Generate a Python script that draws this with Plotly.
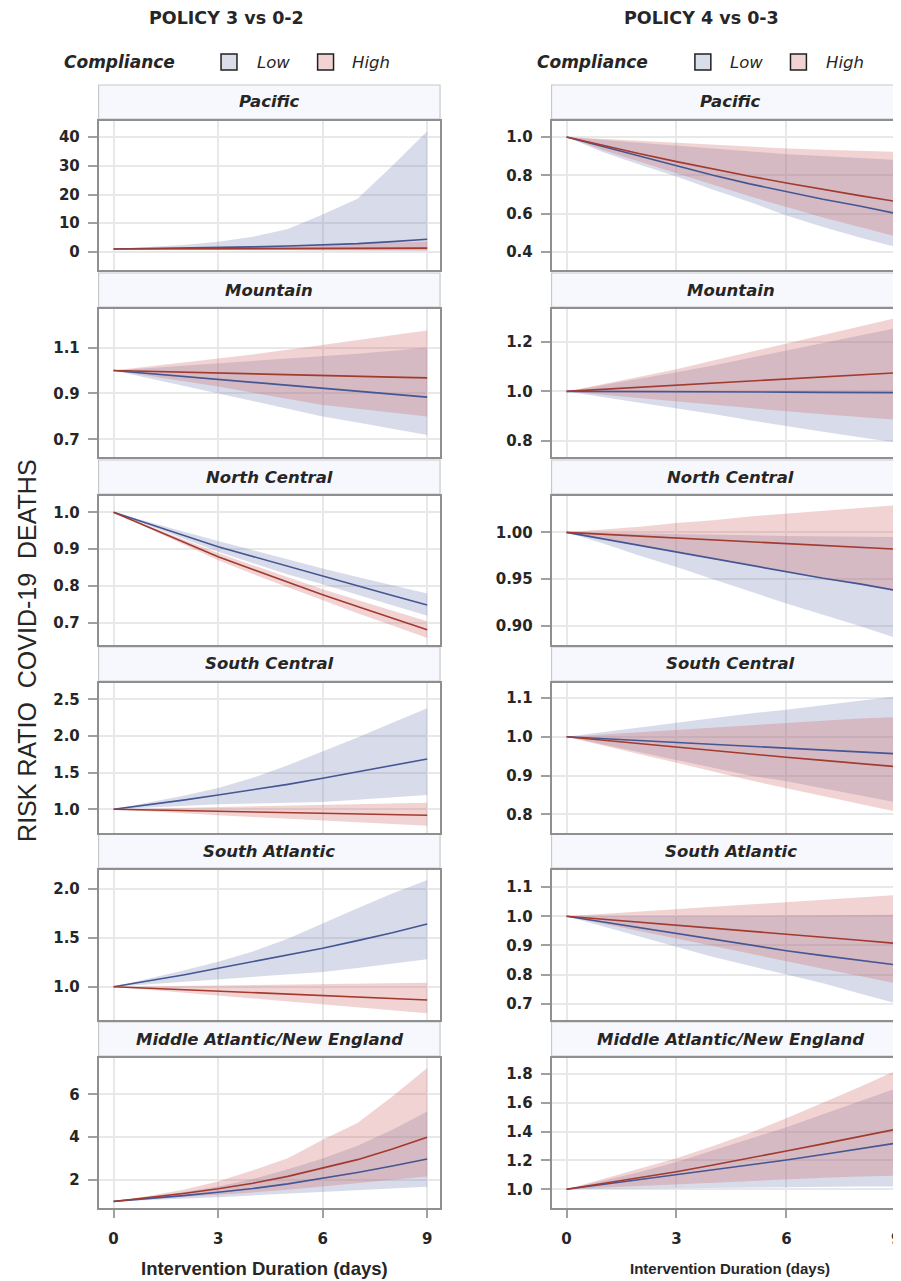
import plotly.graph_objects as go

# The page body has an 8px margin, so the figure is sized to the visible area.
PAGE_OFF = 8
W, H = 901 - PAGE_OFF, 1281 - PAGE_OFF

# ---------------- data ----------------
DAYS = [0, 1, 2, 3, 4, 5, 6, 7, 8, 9]
X_TICKS = [0, 3, 6, 9]
REGIONS = ["Pacific", "Mountain", "North Central", "South Central",
           "South Atlantic", "Middle Atlantic/New England"]
POLICY_TITLES = ["POLICY 3 vs 0-2", "POLICY 4 vs 0-3"]
GROUPS = ["Low", "High"]

# POLICY 3 vs 0-2 : Pacific
p3_pac_low_mid = [1.0, 1.15, 1.3, 1.5, 1.75, 2.05, 2.4, 2.9, 3.6, 4.4]
p3_pac_low_up = [1.0, 1.6, 2.4, 3.5, 5.3, 8.0, 13.0, 18.5, 30.0, 42.0]
p3_pac_low_lo = [1.0, 0.85, 0.75, 0.68, 0.62, 0.56, 0.5, 0.46, 0.43, 0.40]
p3_pac_high_mid = [1.0, 1.03, 1.06, 1.09, 1.12, 1.16, 1.2, 1.24, 1.28, 1.33]
p3_pac_high_up = [1.0, 1.2, 1.4, 1.6, 1.8, 2.1, 2.4, 2.8, 3.2, 3.6]
p3_pac_high_lo = [1.0, 0.9, 0.8, 0.75, 0.7, 0.65, 0.6, 0.56, 0.53, 0.5]
# POLICY 3 : Mountain
p3_mtn_low_mid = [1.0, 0.987, 0.974, 0.961, 0.948, 0.935, 0.922, 0.909, 0.896, 0.884]
p3_mtn_low_up = [1.0, 1.01, 1.02, 1.03, 1.04, 1.05, 1.06, 1.073, 1.086, 1.1]
p3_mtn_low_lo = [1.0, 0.967, 0.934, 0.9, 0.867, 0.834, 0.80, 0.773, 0.746, 0.719]
p3_mtn_high_mid = [1.0, 0.996, 0.992, 0.988, 0.984, 0.98, 0.977, 0.974, 0.971, 0.968]
p3_mtn_high_up = [1.0, 1.017, 1.034, 1.05, 1.07, 1.09, 1.112, 1.133, 1.154, 1.174]
p3_mtn_high_lo = [1.0, 0.977, 0.954, 0.93, 0.903, 0.877, 0.85, 0.833, 0.816, 0.8]
# POLICY 3 : North Central
p3_nc_low_mid = [1.0, 0.97, 0.938, 0.907, 0.88, 0.854, 0.828, 0.801, 0.775, 0.749]
p3_nc_low_up = [1.0, 0.975, 0.948, 0.922, 0.897, 0.872, 0.848, 0.825, 0.802, 0.78]
p3_nc_low_lo = [1.0, 0.965, 0.929, 0.893, 0.862, 0.832, 0.805, 0.777, 0.749, 0.72]
p3_nc_high_mid = [1.0, 0.96, 0.92, 0.88, 0.845, 0.81, 0.777, 0.745, 0.713, 0.682]
p3_nc_high_up = [1.0, 0.964, 0.927, 0.89, 0.857, 0.824, 0.792, 0.763, 0.734, 0.705]
p3_nc_high_lo = [1.0, 0.956, 0.912, 0.87, 0.833, 0.797, 0.762, 0.727, 0.694, 0.66]
# POLICY 3 : South Central
p3_sc_low_mid = [1.0, 1.06, 1.125, 1.195, 1.265, 1.34, 1.423, 1.51, 1.595, 1.686]
p3_sc_low_up = [1.0, 1.09, 1.185, 1.29, 1.43, 1.6, 1.786, 1.98, 2.18, 2.378]
p3_sc_low_lo = [1.0, 1.025, 1.05, 1.07, 1.08, 1.09, 1.10, 1.13, 1.16, 1.195]
p3_sc_high_mid = [1.0, 0.99, 0.98, 0.97, 0.962, 0.953, 0.944, 0.935, 0.927, 0.918]
p3_sc_high_up = [1.0, 1.01, 1.02, 1.03, 1.04, 1.05, 1.06, 1.07, 1.08, 1.09]
p3_sc_high_lo = [1.0, 0.97, 0.945, 0.92, 0.895, 0.87, 0.845, 0.82, 0.798, 0.776]
# POLICY 3 : South Atlantic
p3_sa_low_mid = [1.0, 1.06, 1.12, 1.188, 1.255, 1.32, 1.392, 1.47, 1.55, 1.64]
p3_sa_low_up = [1.0, 1.08, 1.165, 1.255, 1.36, 1.49, 1.647, 1.8, 1.95, 2.09]
p3_sa_low_lo = [1.0, 1.025, 1.05, 1.07, 1.095, 1.12, 1.15, 1.19, 1.235, 1.28]
p3_sa_high_mid = [1.0, 0.985, 0.97, 0.955, 0.94, 0.925, 0.91, 0.895, 0.88, 0.864]
p3_sa_high_up = [1.0, 1.005, 1.01, 1.015, 1.02, 1.025, 1.03, 1.033, 1.036, 1.04]
p3_sa_high_lo = [1.0, 0.97, 0.94, 0.91, 0.88, 0.85, 0.82, 0.79, 0.76, 0.728]
# POLICY 3 : Middle Atlantic/New England
p3_ma_low_mid = [1.0, 1.12, 1.27, 1.43, 1.6, 1.82, 2.08, 2.35, 2.65, 2.98]
p3_ma_low_up = [1.0, 1.2, 1.43, 1.7, 2.05, 2.5, 3.0, 3.6, 4.35, 5.2]
p3_ma_low_lo = [1.0, 1.06, 1.13, 1.2, 1.28, 1.36, 1.44, 1.52, 1.6, 1.69]
p3_ma_high_mid = [1.0, 1.17, 1.37, 1.59, 1.85, 2.17, 2.55, 2.95, 3.45, 4.0]
p3_ma_high_up = [1.0, 1.25, 1.55, 1.93, 2.45, 3.02, 3.88, 4.66, 5.9, 7.23]
p3_ma_high_lo = [1.0, 1.1, 1.2, 1.3, 1.42, 1.55, 1.7, 1.85, 2.0, 2.16]

# POLICY 4 vs 0-3 : Pacific
p4_pac_low_mid = [1.0, 0.95, 0.9, 0.85, 0.80, 0.755, 0.715, 0.675, 0.64, 0.60]
p4_pac_low_up = [1.0, 0.985, 0.97, 0.955, 0.94, 0.925, 0.91, 0.9, 0.89, 0.88]
p4_pac_low_lo = [1.0, 0.92, 0.855, 0.793, 0.725, 0.66, 0.59, 0.53, 0.475, 0.425]
p4_pac_high_mid = [1.0, 0.955, 0.912, 0.871, 0.832, 0.795, 0.76, 0.726, 0.694, 0.663]
p4_pac_high_up = [1.0, 0.99, 0.978, 0.967, 0.958, 0.949, 0.94, 0.933, 0.927, 0.922]
p4_pac_high_lo = [1.0, 0.93, 0.87, 0.81, 0.75, 0.69, 0.635, 0.58, 0.53, 0.48]
# POLICY 4 : Mountain
p4_mtn_low_mid = [1.0, 1.0, 0.999, 0.999, 0.998, 0.998, 0.997, 0.996, 0.996, 0.995]
p4_mtn_low_up = [1.0, 1.025, 1.05, 1.078, 1.105, 1.135, 1.165, 1.195, 1.226, 1.257]
p4_mtn_low_lo = [1.0, 0.977, 0.955, 0.933, 0.908, 0.883, 0.858, 0.836, 0.814, 0.793]
p4_mtn_high_mid = [1.0, 1.008, 1.016, 1.024, 1.032, 1.04, 1.049, 1.058, 1.066, 1.075]
p4_mtn_high_up = [1.0, 1.03, 1.06, 1.09, 1.125, 1.16, 1.196, 1.23, 1.265, 1.298]
p4_mtn_high_lo = [1.0, 0.986, 0.972, 0.959, 0.945, 0.932, 0.919, 0.907, 0.896, 0.885]
# POLICY 4 : North Central
p4_nc_low_mid = [1.0, 0.993, 0.986, 0.979, 0.972, 0.965, 0.958, 0.951, 0.945, 0.938]
p4_nc_low_up = [1.0, 0.9995, 0.999, 0.9985, 0.998, 0.997, 0.996, 0.9955, 0.995, 0.995]
p4_nc_low_lo = [1.0, 0.988, 0.975, 0.963, 0.95, 0.937, 0.924, 0.912, 0.9, 0.887]
p4_nc_high_mid = [1.0, 0.998, 0.996, 0.994, 0.992, 0.99, 0.988, 0.986, 0.984, 0.982]
p4_nc_high_up = [1.0, 1.003, 1.006, 1.01, 1.013, 1.017, 1.02, 1.023, 1.026, 1.029]
p4_nc_high_lo = [1.0, 0.993, 0.986, 0.979, 0.972, 0.965, 0.958, 0.951, 0.944, 0.937]
# POLICY 4 : South Central
p4_sc_low_mid = [1.0, 0.995, 0.99, 0.985, 0.98, 0.975, 0.97, 0.965, 0.96, 0.956]
p4_sc_low_up = [1.0, 1.012, 1.024, 1.036, 1.048, 1.06, 1.07, 1.082, 1.093, 1.104]
p4_sc_low_lo = [1.0, 0.98, 0.96, 0.94, 0.92, 0.9, 0.885, 0.867, 0.849, 0.831]
p4_sc_high_mid = [1.0, 0.991, 0.982, 0.973, 0.964, 0.956, 0.947, 0.939, 0.931, 0.923]
p4_sc_high_up = [1.0, 1.006, 1.012, 1.018, 1.024, 1.03, 1.036, 1.042, 1.047, 1.051]
p4_sc_high_lo = [1.0, 0.977, 0.955, 0.933, 0.91, 0.888, 0.867, 0.847, 0.827, 0.807]
# POLICY 4 : South Atlantic
p4_sa_low_mid = [1.0, 0.98, 0.96, 0.94, 0.92, 0.9, 0.882, 0.865, 0.849, 0.833]
p4_sa_low_up = [1.0, 1.0, 1.0, 1.0, 1.0, 1.002, 1.003, 1.004, 1.005, 1.005]
p4_sa_low_lo = [1.0, 0.965, 0.93, 0.895, 0.86, 0.83, 0.8, 0.77, 0.735, 0.701]
p4_sa_high_mid = [1.0, 0.99, 0.98, 0.97, 0.96, 0.95, 0.94, 0.93, 0.918, 0.907]
p4_sa_high_up = [1.0, 1.008, 1.016, 1.024, 1.032, 1.04, 1.048, 1.056, 1.064, 1.073]
p4_sa_high_lo = [1.0, 0.975, 0.95, 0.925, 0.898, 0.872, 0.845, 0.82, 0.795, 0.77]
# POLICY 4 : Middle Atlantic/New England
p4_ma_low_mid = [1.0, 1.033, 1.066, 1.1, 1.133, 1.167, 1.203, 1.241, 1.28, 1.32]
p4_ma_low_up = [1.0, 1.06, 1.12, 1.19, 1.27, 1.35, 1.43, 1.52, 1.61, 1.70]
p4_ma_low_lo = [1.0, 1.003, 1.006, 1.009, 1.011, 1.013, 1.015, 1.017, 1.019, 1.02]
p4_ma_high_mid = [1.0, 1.04, 1.08, 1.122, 1.168, 1.215, 1.266, 1.315, 1.365, 1.417]
p4_ma_high_up = [1.0, 1.07, 1.14, 1.215, 1.3, 1.39, 1.493, 1.6, 1.71, 1.824]
p4_ma_high_lo = [1.0, 1.012, 1.024, 1.036, 1.048, 1.06, 1.07, 1.08, 1.088, 1.095]

# y-axis ticks per panel (policy 3 column, then policy 4 column)
p3_yticks = [[0, 10, 20, 30, 40], [0.7, 0.9, 1.1], [0.7, 0.8, 0.9, 1.0],
             [1.0, 1.5, 2.0, 2.5], [1.0, 1.5, 2.0], [2, 4, 6]]
p3_yticklabels = [["0", "10", "20", "30", "40"], ["0.7", "0.9", "1.1"],
                  ["0.7", "0.8", "0.9", "1.0"], ["1.0", "1.5", "2.0", "2.5"],
                  ["1.0", "1.5", "2.0"], ["2", "4", "6"]]
p4_yticks = [[0.4, 0.6, 0.8, 1.0], [0.8, 1.0, 1.2], [0.90, 0.95, 1.00],
             [0.8, 0.9, 1.0, 1.1], [0.7, 0.8, 0.9, 1.0, 1.1],
             [1.0, 1.2, 1.4, 1.6, 1.8]]
p4_yticklabels = [["0.4", "0.6", "0.8", "1.0"], ["0.8", "1.0", "1.2"],
                  ["0.90", "0.95", "1.00"], ["0.8", "0.9", "1.0", "1.1"],
                  ["0.7", "0.8", "0.9", "1.0", "1.1"],
                  ["1.0", "1.2", "1.4", "1.6", "1.8"]]

# ---------------- styling / layout ----------------
p3_yranges = [[-6.3, 45.6], [0.623, 1.268], [0.641, 1.044],
              [0.677, 2.722], [0.66, 2.191], [0.693, 7.694]]
p4_yranges = [[0.306, 1.083], [0.734, 1.334], [0.8797, 1.0388],
              [0.7518, 1.1387], [0.644, 1.159], [0.870, 1.911]]

# positions in page pixels
PLOT_TOPS = [121, 309, 496, 683, 870, 1058]
PLOT_BOTS = [270, 457, 645, 833, 1020, 1208]
COL_X = [(99, 442), (554, 901)]
COL_XRANGE = [[-0.43, 9.37], [-0.41, 9.02]]

LOW_LINE = "#445694"
HIGH_LINE = "#A23A2E"
LOW_FILL = "rgba(111,126,179,0.27)"
HIGH_FILL = "rgba(208,91,91,0.27)"
FRAME = "#8F8F8F"
GRID = "#E8E8E8"
TXT = "#262626"
FONT = "DejaVu Sans"
AFONT = "Liberation Sans"

panels = [
    [
        (p3_pac_low_lo, p3_pac_low_mid, p3_pac_low_up, p3_pac_high_lo, p3_pac_high_mid, p3_pac_high_up),
        (p3_mtn_low_lo, p3_mtn_low_mid, p3_mtn_low_up, p3_mtn_high_lo, p3_mtn_high_mid, p3_mtn_high_up),
        (p3_nc_low_lo, p3_nc_low_mid, p3_nc_low_up, p3_nc_high_lo, p3_nc_high_mid, p3_nc_high_up),
        (p3_sc_low_lo, p3_sc_low_mid, p3_sc_low_up, p3_sc_high_lo, p3_sc_high_mid, p3_sc_high_up),
        (p3_sa_low_lo, p3_sa_low_mid, p3_sa_low_up, p3_sa_high_lo, p3_sa_high_mid, p3_sa_high_up),
        (p3_ma_low_lo, p3_ma_low_mid, p3_ma_low_up, p3_ma_high_lo, p3_ma_high_mid, p3_ma_high_up),
    ],
    [
        (p4_pac_low_lo, p4_pac_low_mid, p4_pac_low_up, p4_pac_high_lo, p4_pac_high_mid, p4_pac_high_up),
        (p4_mtn_low_lo, p4_mtn_low_mid, p4_mtn_low_up, p4_mtn_high_lo, p4_mtn_high_mid, p4_mtn_high_up),
        (p4_nc_low_lo, p4_nc_low_mid, p4_nc_low_up, p4_nc_high_lo, p4_nc_high_mid, p4_nc_high_up),
        (p4_sc_low_lo, p4_sc_low_mid, p4_sc_low_up, p4_sc_high_lo, p4_sc_high_mid, p4_sc_high_up),
        (p4_sa_low_lo, p4_sa_low_mid, p4_sa_low_up, p4_sa_high_lo, p4_sa_high_mid, p4_sa_high_up),
        (p4_ma_low_lo, p4_ma_low_mid, p4_ma_low_up, p4_ma_high_lo, p4_ma_high_mid, p4_ma_high_up),
    ],
]
yticks = [p3_yticks, p4_yticks]
yticklabels = [p3_yticklabels, p4_yticklabels]
yranges = [p3_yranges, p4_yranges]


def px(x):
    return (x - PAGE_OFF) / W


def py(y):
    return 1 - (y - PAGE_OFF) / H


fig = go.Figure()
layout = {}
shapes = []
annotations = []

for col in range(2):
    for i in range(6):
        k = i * 2 + col + 1
        xa = "x" if k == 1 else f"x{k}"
        ya = "y" if k == 1 else f"y{k}"
        low_lo, low_mid, low_up, high_lo, high_mid, high_up = panels[col][i]
        common = dict(xaxis=xa, yaxis=ya, mode="lines", showlegend=False,
                      hoverinfo="skip")
        fig.add_trace(go.Scatter(x=DAYS, y=low_lo, line=dict(width=0), **common))
        fig.add_trace(go.Scatter(x=DAYS, y=low_up, line=dict(width=0),
                                 fill="tonexty", fillcolor=LOW_FILL, **common))
        fig.add_trace(go.Scatter(x=DAYS, y=high_lo, line=dict(width=0), **common))
        fig.add_trace(go.Scatter(x=DAYS, y=high_up, line=dict(width=0),
                                 fill="tonexty", fillcolor=HIGH_FILL, **common))
        fig.add_trace(go.Scatter(x=DAYS, y=low_mid,
                                 line=dict(width=1.6, color=LOW_LINE), **common))
        fig.add_trace(go.Scatter(x=DAYS, y=high_mid,
                                 line=dict(width=1.6, color=HIGH_LINE), **common))

        x0, x1 = COL_X[col]
        top, bot = PLOT_TOPS[i], PLOT_BOTS[i]
        bottom = (i == 5)
        layout["xaxis" if k == 1 else f"xaxis{k}"] = dict(
            domain=[px(x0), min(1.0, px(x1))], anchor=ya, range=COL_XRANGE[col],
            tickvals=X_TICKS, ticktext=[str(v) for v in X_TICKS],
            showticklabels=bottom, ticks="outside" if bottom else "",
            ticklen=8, tickwidth=1.5, tickcolor="#A0A0A0", ticklabelstandoff=8,
            ticklabeloverflow="allow",
            tickfont=dict(family=FONT, size=15, color=TXT, weight="bold"),
            showline=True, mirror=True, linecolor=FRAME, linewidth=1.6,
            showgrid=True, gridcolor=GRID, gridwidth=1.5, zeroline=False,
            fixedrange=True)
        layout["yaxis" if k == 1 else f"yaxis{k}"] = dict(
            domain=[py(bot), py(top)], anchor=xa, range=yranges[col][i],
            tickvals=yticks[col][i], ticktext=yticklabels[col][i],
            ticks="outside", ticklen=9, tickwidth=1.5, tickcolor="#A0A0A0",
            ticklabelstandoff=5,
            tickfont=dict(family=FONT, size=15, color=TXT, weight="bold"),
            showline=True, mirror=(col == 0), linecolor=FRAME, linewidth=1.6,
            showgrid=True, gridcolor=GRID, gridwidth=1.5, zeroline=False,
            fixedrange=True)

        # strip header
        sx1 = x1 if col == 0 else 914
        shapes.append(dict(type="rect", xref="paper", yref="paper",
                           x0=px(x0), x1=px(sx1), y0=py(top - 2), y1=py(top - 36),
                           fillcolor="#F7F8FD", line=dict(color="#C6C8CC", width=1.2),
                           layer="below"))
        annotations.append(dict(xref="paper", yref="paper",
                                x=px((x0 + sx1) / 2), y=py(top - 19),
                                text=REGIONS[i], showarrow=False,
                                xanchor="center", yanchor="middle",
                                font=dict(family=FONT, size=16.5, color=TXT,
                                          weight="bold", style="italic")))

# policy titles
for cx, t in zip([227, 705], POLICY_TITLES):
    annotations.append(dict(xref="paper", yref="paper", x=px(cx), y=py(18),
                            text=t, showarrow=False, xanchor="center",
                            yanchor="middle",
                            font=dict(family=FONT, size=17.5, color=TXT, weight="bold")))

# legends
legend_pos = [dict(comp=62, boxes=[222, 319], labels=[256, 352]),
              dict(comp=537, boxes=[698, 794], labels=[731, 828])]
legend_fill = ["#DADDEA", "#F2D3D4"]
for lp in legend_pos:
    annotations.append(dict(xref="paper", yref="paper", x=px(lp["comp"]), y=py(62),
                            text="Compliance", showarrow=False, xanchor="left",
                            yanchor="middle",
                            font=dict(family=FONT, size=17, color=TXT,
                                      weight="bold", style="italic")))
    for bx, lx, g, fc in zip(lp["boxes"], lp["labels"], GROUPS, legend_fill):
        shapes.append(dict(type="rect", xref="paper", yref="paper",
                           x0=px(bx), x1=px(bx + 16), y0=py(54), y1=py(70),
                           fillcolor=fc, line=dict(color="#202020", width=1.5)))
        annotations.append(dict(xref="paper", yref="paper", x=px(lx), y=py(62),
                                text=g, showarrow=False, xanchor="left",
                                yanchor="middle",
                                font=dict(family=FONT, size=16.5, color=TXT,
                                          style="italic")))

# axis titles
annotations.append(dict(xref="paper", yref="paper", x=px(27), y=py(651),
                        text="RISK RATIO\u00a0 COVID-19\u00a0 DEATHS",
                        textangle=-90, showarrow=False, xanchor="center",
                        yanchor="middle",
                        font=dict(family=AFONT, size=25, color=TXT)))
annotations.append(dict(xref="paper", yref="paper", x=px(266), y=py(1268),
                        text="Intervention Duration (days)", showarrow=False,
                        xanchor="center", yanchor="middle",
                        font=dict(family=AFONT, size=18.5, color=TXT, weight="bold")))
annotations.append(dict(xref="paper", yref="paper", x=px(733), y=py(1268),
                        text="Intervention Duration (days)", showarrow=False,
                        xanchor="center", yanchor="middle",
                        font=dict(family=AFONT, size=15, color=TXT, weight="bold")))

fig.update_layout(width=W, height=H, margin=dict(l=0, r=0, t=0, b=0),
                  paper_bgcolor="white", plot_bgcolor="white",
                  shapes=shapes, annotations=annotations, **layout)

fig.write_html("out.html")
